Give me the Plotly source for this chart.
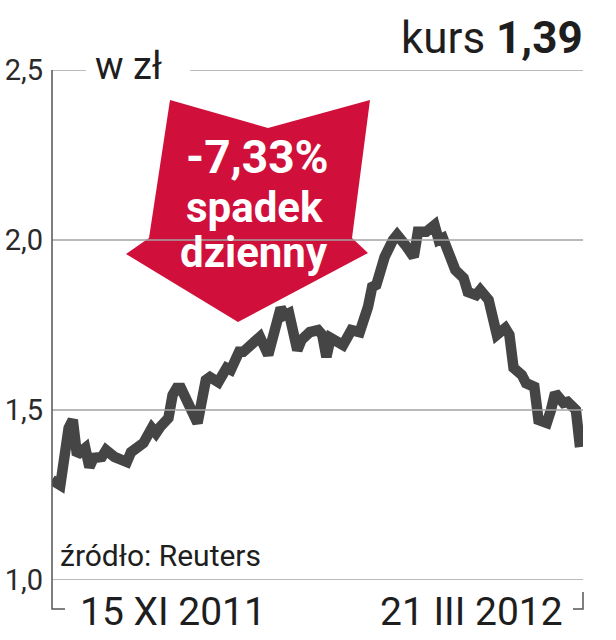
import plotly.graph_objects as go

# ---- data ----
dates = [
    "2011-11-15", "2011-11-17", "2011-11-19", "2011-11-20", "2011-11-21", "2011-11-23",
    "2011-11-24", "2011-11-25", "2011-11-27", "2011-11-28", "2011-11-30", "2011-12-02",
    "2011-12-03", "2011-12-04", "2011-12-06", "2011-12-07", "2011-12-09", "2011-12-10",
    "2011-12-11", "2011-12-13", "2011-12-14", "2011-12-15", "2011-12-16", "2011-12-20",
    "2011-12-22", "2011-12-23", "2011-12-25", "2011-12-27", "2011-12-28", "2011-12-30",
    "2011-12-31", "2012-01-02", "2012-01-04", "2012-01-06", "2012-01-07", "2012-01-09",
    "2012-01-10", "2012-01-11", "2012-01-13", "2012-01-14", "2012-01-16", "2012-01-18",
    "2012-01-19", "2012-01-20", "2012-01-21", "2012-01-23", "2012-01-24", "2012-01-26",
    "2012-01-28", "2012-01-30", "2012-01-31", "2012-02-01", "2012-02-03", "2012-02-05",
    "2012-02-06", "2012-02-08", "2012-02-10", "2012-02-11", "2012-02-13", "2012-02-15",
    "2012-02-16", "2012-02-17", "2012-02-18", "2012-02-20", "2012-02-22", "2012-02-23",
    "2012-02-25", "2012-02-26", "2012-02-28", "2012-02-29", "2012-03-01", "2012-03-03",
    "2012-03-04", "2012-03-05", "2012-03-07", "2012-03-08", "2012-03-10", "2012-03-11",
    "2012-03-13", "2012-03-14", "2012-03-15", "2012-03-17", "2012-03-18", "2012-03-20",
    "2012-03-21",
]
prices = [
    1.294, 1.279, 1.447, 1.471, 1.368, 1.388,
    1.332, 1.359, 1.362, 1.382, 1.362, 1.347,
    1.347, 1.376, 1.391, 1.403, 1.447, 1.432,
    1.450, 1.476, 1.544, 1.565, 1.565, 1.462,
    1.588, 1.597, 1.582, 1.624, 1.618, 1.671,
    1.671, 1.697, 1.715, 1.662, 1.706, 1.800,
    1.779, 1.785, 1.676, 1.706, 1.729, 1.735,
    1.721, 1.656, 1.712, 1.700, 1.691, 1.735,
    1.729, 1.803, 1.862, 1.868, 1.950, 2.000,
    2.015, 1.985, 1.950, 2.024, 2.024, 2.044,
    2.000, 2.006, 1.971, 1.912, 1.888, 1.847,
    1.838, 1.853, 1.824, 1.785, 1.721, 1.741,
    1.721, 1.624, 1.603, 1.579, 1.568, 1.471,
    1.462, 1.500, 1.550, 1.521, 1.524, 1.500,
    1.391,
]
y_tick_values = [1.0, 1.5, 2.0, 2.5]
y_tick_labels = ["1,0", "1,5", "2,0", "2,5"]
date_labels = ["15 XI 2011", "21 III 2012"]
unit_label = "w zł"
source_label = "źródło: Reuters"
price_label = "kurs"
price_value = "1,39"
change_label = "-7,33%"
change_words = ["spadek", "dzienny"]

# ---- layout geometry (pixels) ----
W, H = 616, 640
L, R, T, B = 52, 33, 70, 60
PW, PH = W - L - R, H - T - B

def px(x):
    return (x - L) / PW

def py(y):
    return (H - B - y) / PH

RED = "#d0103a"
LINE = "#454545"
GRID = "#a3a3a3"
TXT = "#1e1e1e"
FONT = "Roboto, 'Liberation Sans', Arial, sans-serif"

fig = go.Figure()
fig.add_trace(go.Scatter(
    x=dates, y=prices, mode="lines",
    line=dict(color=LINE, width=10.5, shape="linear"),
    hoverinfo="skip", showlegend=False, cliponaxis=False,
))

shapes = []
# grid lines
for v in y_tick_values:
    if v == y_tick_values[-1]:
        shapes.append(dict(type="line", xref="paper", yref="y", x0=0, x1=px(86), y0=v, y1=v,
                           line=dict(color=GRID, width=1.5)))
        shapes.append(dict(type="line", xref="paper", yref="y", x0=px(190), x1=1, y0=v, y1=v,
                           line=dict(color=GRID, width=1.5)))
    else:
        shapes.append(dict(type="line", xref="paper", yref="y", x0=0, x1=1, y0=v, y1=v,
                           line=dict(color=GRID, width=1.5)))
# left axis bracket
shapes.append(dict(type="path", xref="paper", yref="paper",
                   path=f"M {px(L)} {py(T)} L {px(L)} {py(609)} L {px(65)} {py(609)}",
                   line=dict(color="#555555", width=1.5)))
# right bracket
shapes.append(dict(type="path", xref="paper", yref="paper",
                   path=f"M {px(583)} {py(592)} L {px(583)} {py(609)} L {px(573)} {py(609)}",
                   line=dict(color="#555555", width=1.5)))
# red arrow
arrow_pts = [(170, 100), (268, 128), (370, 100), (352, 238), (368, 253),
             (238, 322), (126, 254), (149, 238)]
path = "M " + " L ".join(f"{px(a)} {py(b)}" for a, b in arrow_pts) + " Z"
shapes.append(dict(type="path", xref="paper", yref="paper", path=path,
                   fillcolor=RED, line=dict(width=0), layer="below"))

annotations = [
    dict(text=f"{price_label} <b>{price_value}</b>", x=px(585), y=py(38), xanchor="right",
         yanchor="middle", font=dict(size=44, color=TXT, family=FONT)),
    dict(text=unit_label, x=px(93), y=py(66), xanchor="left", yanchor="middle",
         font=dict(size=38, color=TXT, family=FONT)),
    dict(text=source_label, x=px(58), y=py(555), xanchor="left", yanchor="middle",
         font=dict(size=30, color=TXT, family=FONT)),
    dict(text=date_labels[0], x=px(173), y=py(612), xanchor="center", yanchor="middle",
         font=dict(size=39, color=TXT, family=FONT)),
    dict(text=date_labels[1], x=px(471), y=py(612), xanchor="center", yanchor="middle",
         font=dict(size=39, color=TXT, family=FONT)),
    dict(text=f"<b>{change_label}</b>", x=px(257), y=py(157), xanchor="center", yanchor="middle",
         font=dict(size=46, color="white", family=FONT)),
    dict(text=f"<b>{change_words[0]}</b>", x=px(254), y=py(207), xanchor="center", yanchor="middle",
         font=dict(size=42, color="white", family=FONT)),
    dict(text=f"<b>{change_words[1]}</b>", x=px(254), y=py(253), xanchor="center", yanchor="middle",
         font=dict(size=42, color="white", family=FONT)),
]
for a in annotations:
    a.update(xref="paper", yref="paper", showarrow=False)

fig.update_layout(
    width=W, height=H,
    margin=dict(l=L, r=R, t=T, b=B, pad=0, autoexpand=False),
    paper_bgcolor="white", plot_bgcolor="white",
    shapes=shapes, annotations=annotations,
    xaxis=dict(type="date", range=["2011-11-15", "2012-03-21 17:00"], showgrid=False,
               zeroline=False, showline=False, showticklabels=False, ticks="",
               automargin=False),
    yaxis=dict(range=[1.0, 2.5], tickvals=y_tick_values, ticktext=y_tick_labels,
               showgrid=False, zeroline=False, showline=False, ticks="",
               ticklabelstandoff=8, automargin=False,
               tickfont=dict(size=29, color="#2a2a2a", family=FONT)),
    showlegend=False,
)

fig.write_html("out.html", config={"displayModeBar": False},
               post_script="document.body.style.margin='0';document.body.style.padding='0';")
